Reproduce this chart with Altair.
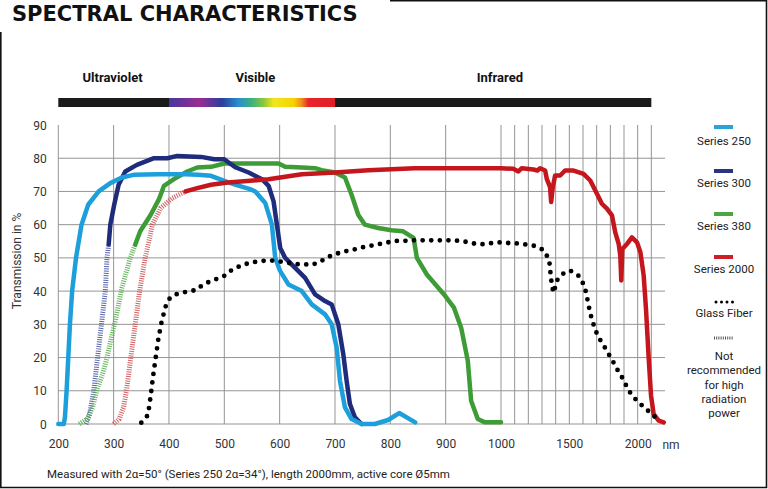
import altair as alt
import pandas as pd

# ---------------- data ----------------
series_names = ["Series 250", "Series 300", "Series 380", "Series 2000"]
series_colors = ["#1c9fda", "#1f2b7b", "#3d9c35", "#c4161c"]
hatch_colors = ["#1c9fda", "#4553a0", "#56aa4c", "#cc5050"]

s250_nm = [200, 210, 212, 215, 218, 221, 225, 232, 242, 254, 273, 294, 315, 336, 380, 430,
           452, 476, 506, 521, 545, 556, 574, 586, 592, 601, 616, 640, 658, 682, 694, 703,
           709, 718, 730, 748, 772, 796, 816, 845]
s250_T = [0, 0, 2, 10, 20, 30, 40, 50, 60, 66, 70, 72.5, 74.2, 75, 75.2, 75.2,
          75, 74.7, 72.8, 72, 70.8, 70, 66.5, 60, 50, 46, 42, 40, 36, 33, 30, 23,
          13, 5, 1.5, 0, 0, 1.2, 3.3, 0.5]

s300_hatch_nm = [250, 256, 264, 271, 278, 285, 288, 291]
s300_hatch_T = [0, 2.5, 10, 20, 30, 40, 50, 54]
s300_nm = [291, 294, 301, 309, 321, 342, 373, 397, 415, 458, 482, 500, 512, 521, 544, 568,
           580, 589, 595, 601, 610, 628, 646, 664, 682, 694, 706, 715, 721, 727, 736, 748]
s300_T = [54, 60, 66, 72, 76, 78, 80, 80, 80.7, 80.4, 79.7, 79.7, 78.2, 77.2, 75.7, 73.7,
          71.7, 67, 60, 53, 50, 47, 44, 39, 37, 36, 30, 21, 13, 6, 2, 0]

s380_hatch_nm = [238, 252, 262, 270, 280, 288, 296, 303, 315, 330, 339]
s380_hatch_T = [0, 1.5, 5, 10.5, 15, 20, 26, 31, 41, 50, 54]
s380_nm = [339, 348, 367, 382, 391, 409, 433, 451, 476, 500, 530, 598, 610, 640, 664, 676,
           700, 718, 730, 742, 754, 778, 802, 823, 842, 848, 866, 897, 915, 928, 940, 946,
           958, 971, 1000]
s380_T = [54, 58, 63, 67.7, 71.7, 73.7, 76, 77.2, 77.4, 78.4, 78.4, 78.4, 77.4, 77.2, 77, 76.4,
          75.7, 74.2, 69, 63, 60, 59, 58.3, 58, 56, 50, 45, 39, 35, 29, 19, 7,
          1.5, 0.5, 0.5]

s2000_hatch_nm = [300, 310, 318, 324, 331, 339, 347, 357, 370, 385, 406, 430]
s2000_hatch_T = [0, 1.5, 5, 11, 20, 30, 40, 50, 60, 65, 68, 70]
s2000_nm = [430, 451, 476, 506, 530, 580, 640, 700, 760, 844, 1000, 1090, 1127, 1152, 1237,
            1267, 1286, 1323, 1335, 1359, 1367, 1379, 1396, 1433, 1469, 1531, 1604, 1653,
            1702, 1738, 1775, 1812, 1836, 1861, 1873, 1880, 1888, 1922, 1958, 1995, 2020,
            2044, 2061, 2081, 2098, 2117, 2154, 2191]
s2000_T = [70, 71, 72, 72.7, 73, 73.7, 75.2, 75.7, 76.4, 77, 77, 76.8, 76, 77, 76.6,
           76.3, 77, 76.3, 73.8, 71.3, 66.8, 71.3, 74.8, 74.8, 76.3, 76.3, 75.3, 73.3,
           69.3, 66.3, 64.8, 62.8, 57.7, 54.2, 50.7, 43.2, 52.7, 54.2, 56.2, 54.7, 51.7,
           44.7, 34.6, 19.6, 8.5, 3, 1, 0.5]

glass_nm = [350, 362, 367, 371, 376, 381, 387, 395, 402, 412, 436, 449, 459, 470, 485, 500,
            513, 529, 547, 565, 580, 597, 613, 628, 643, 658, 673, 685, 700, 715, 730, 747,
            763, 778, 793, 809, 825, 841, 870, 903, 920, 939, 952, 965, 980, 995, 1042,
            1108, 1171, 1237, 1311, 1352, 1359, 1364, 1372, 1384, 1413, 1452, 1506, 1572,
            1611, 1628, 1643, 1660, 1682, 1709, 1746, 1780, 1817, 1848, 1885, 1917, 1954,
            2002, 2056, 2112, 2166]
glass_T = [0.4, 2.7, 8.5, 14, 20, 25.8, 31, 36, 38, 39, 40, 40.3, 41.6, 42.6, 43.6, 44.6,
           46.3, 47.6, 48.6, 49, 49.3, 49, 48.6, 48.1, 48.1, 47.9, 48.8, 50.1, 51.1, 51.9, 52.3, 53.1,
           53.6, 54.1, 54.6, 55.1, 55.1, 55.3, 55.3, 55.3, 55.2, 54.8, 54.3, 54.1, 54.4, 54.7, 54.5,
           54.4, 54.1, 53.7, 52.4, 49.5, 46.9, 44.5, 42, 39.5, 43.4, 45.2, 46.2, 44.5,
           41.5, 38.4, 35.3, 32.3, 29.3, 26.4, 24, 21.6, 19, 16.6, 14.1, 11.5, 8.8,
           6.7, 4.7, 2.7, 0.5]

x_label_values = [200, 300, 400, 500, 600, 700, 800, 900, 1000, 1500, 2000]
x_grid_values = [200, 300, 400, 500, 600, 700, 800, 900, 1000, 1100, 1200, 1300, 1400,
                 1500, 1600, 1700, 1800, 1900, 2000, 2100]
y_label_values = [0, 10, 20, 30, 40, 50, 60, 70, 80, 90]
y_grid_values = [0, 10, 20, 30, 40, 50, 60, 70, 80]

band_names = ["Ultraviolet", "Visible", "Infrared"]
band_centers = [298, 556, 998]
spectrum_start, spectrum_end = [200], [2100]
visible_start, visible_end = [400], [700]

legend_labels = ["Series 250", "Series 300", "Series 380", "Series 2000"]
legend_colors = ["#2aa3dc", "#2a3581", "#4aa844", "#cc1f27"]

# ---------------- layout ----------------
W, H = 606.7, 299
PL, PT = 58.3, 125
FONT = "Roboto"

xscale = alt.Scale(domain=[200, 1000, 2200], range=[0, 442.7, W], nice=False, zero=False)
yscale = alt.Scale(domain=[0, 90], nice=False, zero=True)
xaxis = alt.Axis(values=x_label_values, grid=False, domain=False, ticks=False, title=None,
                 format="d", labelPadding=14, labelFontSize=12, labelColor="#333",
                 labelFont=FONT, labelFlush=False, labelOverlap=False)
yaxis = alt.Axis(values=y_label_values, grid=False, domain=False, ticks=False, title=None,
                 labelPadding=12, labelFontSize=12, labelColor="#333", labelFont=FONT)
X = alt.X("nm:Q", scale=xscale, axis=xaxis)
Y = alt.Y("T:Q", scale=yscale, axis=yaxis)

layers = []

# frame and title cover
one = pd.DataFrame({"k": [0]})
layers.append(alt.Chart(one).mark_rect(fillOpacity=0, stroke="#111", strokeWidth=1.6).encode(
    x=alt.value(-PL + 0.8), x2=alt.value(768 - PL - 1.5),
    y=alt.value(-PT + 0.8), y2=alt.value(489 - PT - 1.5)))
layers.append(alt.Chart(one).mark_rect(color="white").encode(
    x=alt.value(-PL - 2), x2=alt.value(390 - PL), y=alt.value(-PT - 2), y2=alt.value(32 - PT)))

# grid
layers.append(alt.Chart(pd.DataFrame({"T": y_grid_values})).mark_rule(
    color="#959595", strokeWidth=1).encode(y=Y))
layers.append(alt.Chart(pd.DataFrame({"nm": x_grid_values})).mark_rule(
    color="#959595", strokeWidth=1).encode(x=X))

# spectrum bar
layers.append(alt.Chart(pd.DataFrame({"nm": spectrum_start, "nm2": spectrum_end})).mark_rect(
    color="#1b1b1b").encode(x=X, x2="nm2:Q", y=alt.value(-27), y2=alt.value(-18)))
grad = alt.LinearGradient(gradient="linear", x1=0, x2=1, y1=0, y2=0, stops=[
    alt.GradientStop(offset=0.0, color="#45389c"),
    alt.GradientStop(offset=0.18, color="#9a2c93"),
    alt.GradientStop(offset=0.32, color="#2d3e9c"),
    alt.GradientStop(offset=0.42, color="#2a8fcf"),
    alt.GradientStop(offset=0.50, color="#3db27a"),
    alt.GradientStop(offset=0.57, color="#8cc63f"),
    alt.GradientStop(offset=0.63, color="#f2e51c"),
    alt.GradientStop(offset=0.75, color="#f5d400"),
    alt.GradientStop(offset=0.80, color="#f08a20"),
    alt.GradientStop(offset=0.84, color="#e8252a"),
    alt.GradientStop(offset=1.0, color="#e01e25"),
])
layers.append(alt.Chart(pd.DataFrame({"nm": visible_start, "nm2": visible_end})).mark_rect(
    color=grad).encode(x=X, x2="nm2:Q", y=alt.value(-27), y2=alt.value(-18)))
layers.append(alt.Chart(pd.DataFrame({"nm": band_centers, "label": band_names})).mark_text(
    font=FONT, fontSize=13, fontWeight="bold", color="#111", baseline="middle").encode(
    x=X, y=alt.value(-47.5), text="label:N"))


def line_df(nm, T):
    return pd.DataFrame({"nm": nm, "T": T, "i": list(range(len(nm)))})


# hatched (not recommended) segments
hatched = [(s300_hatch_nm, s300_hatch_T, hatch_colors[1]),
           (s380_hatch_nm, s380_hatch_T, hatch_colors[2]),
           (s2000_hatch_nm, s2000_hatch_T, hatch_colors[3])]
for nm, T, c in hatched:
    layers.append(alt.Chart(line_df(nm, T)).mark_line(
        color=c, strokeWidth=5, strokeDash=[1, 1.3], opacity=0.9).encode(x=X, y=Y, order="i:Q"))

# solid series
solid = [(s380_nm, s380_T, series_colors[2]),
         (s300_nm, s300_T, series_colors[1]),
         (s250_nm, s250_T, series_colors[0]),
         (s2000_nm, s2000_T, series_colors[3])]
for nm, T, c in solid:
    layers.append(alt.Chart(line_df(nm, T)).mark_line(
        color=c, strokeWidth=4.5, strokeJoin="round", strokeCap="round").encode(
        x=X, y=Y, order="i:Q"))

# glass fiber dotted
layers.append(alt.Chart(line_df(glass_nm, glass_T)).mark_line(
    color="black", strokeWidth=4.8, strokeDash=[0, 8.6], strokeCap="round").encode(
    x=X, y=Y, order="i:Q"))

# axis extras
layers.append(alt.Chart(one).mark_text(text="nm", font=FONT, fontSize=12, color="#333",
                                       baseline="middle").encode(
    x=alt.value(671 - PL), y=alt.value(445 - PT)))
layers.append(alt.Chart(one).mark_text(text="Transmission in %", font=FONT, fontSize=12,
                                       color="#333", angle=270, baseline="middle").encode(
    x=alt.value(17 - PL), y=alt.value(261 - PT)))

# title and footnote
layers.append(alt.Chart(one).mark_text(text="SPECTRAL CHARACTERISTICS", font="DejaVu Sans",
                                       fontSize=21, fontWeight="bold", color="#111",
                                       align="left", baseline="alphabetic").encode(
    x=alt.value(12 - PL), y=alt.value(21 - PT)))
layers.append(alt.Chart(one).mark_text(
    text="Measured with 2\u03b1=50\u00b0 (Series 250 2\u03b1=34\u00b0), length 2000mm, active core \u00d85mm",
    font=FONT, fontSize=11.5, color="#222", align="left", baseline="middle").encode(
    x=alt.value(47 - PL), y=alt.value(475 - PT)))

# custom legend
LX = 724 - PL
sw_y = [127, 171, 214, 257]
tx_y = [142, 184, 227, 270]
for lab, col, sy, ty in zip(legend_labels, legend_colors, sw_y, tx_y):
    layers.append(alt.Chart(one).mark_rect(color=col).encode(
        x=alt.value(LX - 10), x2=alt.value(LX + 9), y=alt.value(sy - 2 - PT), y2=alt.value(sy + 2 - PT)))
    layers.append(alt.Chart(one).mark_text(text=lab, font=FONT, fontSize=11.5, color="#222",
                                           baseline="middle").encode(
        x=alt.value(LX), y=alt.value(ty - PT)))
layers.append(alt.Chart(one).mark_rule(color="black", strokeWidth=3, strokeDash=[0, 5.5],
                                       strokeCap="round").encode(
    x=alt.value(LX - 8), x2=alt.value(LX + 9), y=alt.value(302 - PT)))
layers.append(alt.Chart(one).mark_text(text="Glass Fiber", font=FONT, fontSize=11.5, color="#222",
                                       baseline="middle").encode(
    x=alt.value(LX), y=alt.value(314 - PT)))
layers.append(alt.Chart(one).mark_rule(color="#555", strokeWidth=3, strokeDash=[1, 1.2]).encode(
    x=alt.value(LX - 10), x2=alt.value(LX + 9), y=alt.value(338 - PT)))
layers.append(alt.Chart(one).mark_text(
    text=["Not", "recommended", "for high", "radiation", "power"], font=FONT, fontSize=11.5,
    color="#222", baseline="middle", lineHeight=14.3).encode(
    x=alt.value(LX), y=alt.value(357 - PT)))

chart = alt.layer(*layers).properties(
    width=W, height=H,
    autosize=alt.AutoSizeParams(type="none"),
    padding={"left": PL, "top": PT, "right": 768 - PL - W, "bottom": 489 - PT - H},
    background="white",
).configure_view(stroke=None)

chart.save("out.html", embed_options={"renderer": "svg", "actions": False})
